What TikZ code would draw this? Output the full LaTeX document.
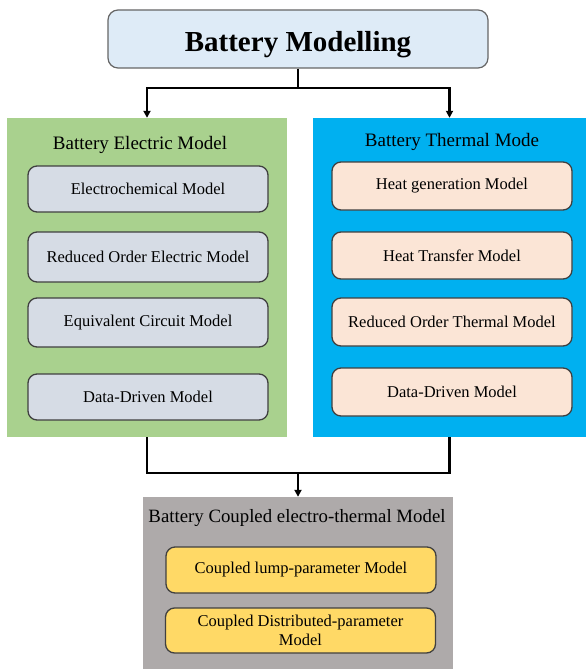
\documentclass[tikz,border=0pt]{standalone}
\usepackage{fontspec}
\setmainfont{Liberation Serif}
\usetikzlibrary{arrows.meta}
\definecolor{topfill}{HTML}{DEEBF7}
\definecolor{greenfill}{HTML}{A9D18E}
\definecolor{bluefill}{HTML}{00B0F0}
\definecolor{grayfill}{HTML}{AEAAAA}
\definecolor{elecfill}{HTML}{D6DCE5}
\definecolor{thermfill}{HTML}{FBE5D6}
\definecolor{yellowfill}{HTML}{FFD966}
\definecolor{edgegray}{HTML}{404040}
\begin{document}
\begin{tikzpicture}[x=1pt,y=-1pt,
  panel/.style={draw=none,minimum width=#1,inner sep=0pt},
  innerbox/.style={draw=edgegray,line width=1.3pt,rounded corners=9pt,minimum width=240pt,inner sep=0pt,align=center,font=\fontsize{16.5}{19}\selectfont},
  paneltitle/.style={inner sep=0pt,font=\fontsize{19}{22}\selectfont},
  conn/.style={line width=2.4pt,black},
  arr/.style={conn,-{Triangle[length=7pt,width=7pt]}}
]
\useasboundingbox (0,0) rectangle (586,669);
% top
\node[draw=edgegray!80,line width=1.2pt,fill=topfill,rounded corners=10pt,minimum width=380pt,minimum height=58pt,inner sep=0pt,font=\fontsize{29}{32}\selectfont\bfseries] (top) at (298,39) {\raisebox{-13pt}[0pt][0pt]{Battery Modelling}};
% panels
\node[panel=280pt,fill=greenfill,minimum height=319pt] (elec) at (147,277.5) {};
\node[panel=273pt,fill=bluefill,minimum height=319pt] (therm) at (449.5,277.5) {};
\node[panel=310pt,fill=grayfill,minimum height=174pt] (coup) at (298,584) {};
% titles
\node[paneltitle] (elect) at (140,145) {Battery Electric Model};
\node[paneltitle] (thermt) at (452,142) {Battery Thermal Mode};
\node[paneltitle,font=\fontsize{18.8}{22}\selectfont] (coupt) at (297,518) {Battery Coupled electro-thermal Model};
% electric boxes
\node[innerbox,fill=elecfill,minimum height=46pt] (e1) at (148,189) {Electrochemical Model};
\node[innerbox,fill=elecfill,minimum height=50pt] (e2) at (148,257) {Reduced Order Electric Model};
\node[innerbox,fill=elecfill,minimum height=49pt] (e3) at (148,322.5) {Equivalent Circuit Model};
\node[innerbox,fill=elecfill,minimum height=46pt] (e4) at (148,397) {Data-Driven Model};
% thermal boxes
\node[innerbox,fill=thermfill,minimum height=48pt] (t1) at (452,186) {Heat generation Model};
\node[innerbox,fill=thermfill,minimum height=47pt] (t2) at (452,255.5) {Heat Transfer Model};
\node[innerbox,fill=thermfill,minimum height=48pt] (t3) at (452,322) {Reduced Order Thermal Model};
\node[innerbox,fill=thermfill,minimum height=48pt] (t4) at (452,392) {Data-Driven Model};
% coupled boxes
\node[innerbox,fill=yellowfill,minimum width=270pt,minimum height=46pt] (c1) at (301,570) {Coupled lump-parameter Model};
\node[innerbox,fill=yellowfill,minimum width=270pt,minimum height=45pt,font=\fontsize{16.5}{19.5}\selectfont] (c2) at (300.5,630.5) {Coupled Distributed-parameter\\Model};
% connectors
\coordinate (j1) at (298,88);
\coordinate (j2) at (298,473);
\draw[conn] (top.south) -- (j1);
\draw[arr] (j1) -| (elec.north);
\draw[arr] (j1) -| (therm.north);
\draw[conn] (elec.south) |- (j2);
\draw[conn] (therm.south) |- (j2);
\draw[arr] (j2) -- (coup.north);
\end{tikzpicture}
\end{document}
